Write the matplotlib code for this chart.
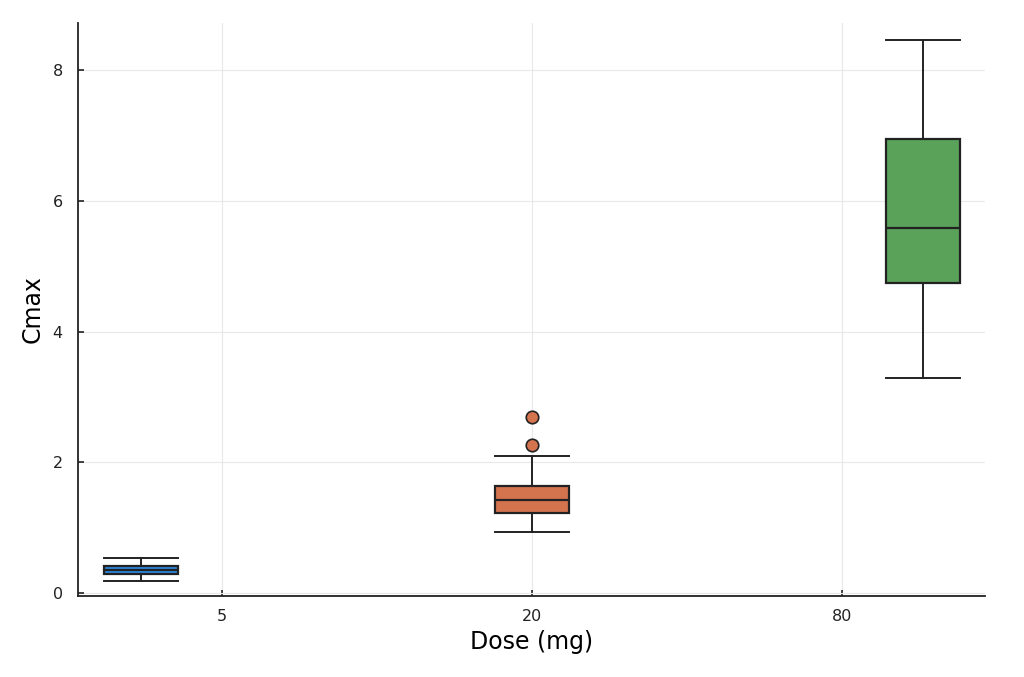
import numpy as np
import matplotlib.pyplot as plt

# box statistics (Cmax per dose group)
doses = ["5", "20", "80"]
positions = [0.5, 1.5, 2.5]
tick_pos = [0.707, 1.5, 2.293]
whislo = [0.18, 0.93, 3.29]
q1 = [0.29, 1.23, 4.75]
med = [0.35, 1.43, 5.58]
q3 = [0.41, 1.63, 6.94]
whishi = [0.54, 2.09, 8.46]
fliers = [[], [2.27, 2.70], []]
colors = ["#2E86DE", "#D4744F", "#5AA15A"]

stats = []
for i in range(len(doses)):
    stats.append(dict(med=med[i], q1=q1[i], q3=q3[i], whislo=whislo[i],
                      whishi=whishi[i], fliers=fliers[i], label=doses[i]))

fig = plt.figure(figsize=(10.24, 6.77), dpi=100)
ax = fig.add_axes([0.0762, 0.1196, 0.8858, 0.8464])

edge = "#222222"
for i, s in enumerate(stats):
    ax.bxp([s], positions=[positions[i]], widths=0.19, patch_artist=True,
           boxprops=dict(facecolor=colors[i], edgecolor=edge, linewidth=1.6),
           medianprops=dict(color=edge, linewidth=1.6),
           whiskerprops=dict(color=edge, linewidth=1.4),
           capprops=dict(color=edge, linewidth=1.4),
           capwidths=0.19,
           flierprops=dict(marker="o", markerfacecolor=colors[i],
                           markeredgecolor=edge, markersize=9,
                           markeredgewidth=1.2))

ax.set_xlim(0.339, 2.659)
ax.set_ylim(-0.046, 8.72)
ax.set_xticks(tick_pos)
ax.set_xticklabels(doses)
ax.set_yticks([0, 2, 4, 6, 8])
ax.set_yticklabels(["0", "2", "4", "6", "8"])

ax.grid(True, color="#e8e8e8", linewidth=0.8)
ax.set_axisbelow(True)
for side in ["top", "right"]:
    ax.spines[side].set_visible(False)
for side in ["left", "bottom"]:
    ax.spines[side].set_linewidth(1.3)
    ax.spines[side].set_color("#222222")
ax.tick_params(direction="in", length=4, width=1.2, labelsize=11.5,
               colors="#222222")
ax.tick_params(axis="y", pad=11)
ax.tick_params(axis="x", pad=9.5)

ax.set_xlabel("Dose (mg)", fontsize=17, labelpad=4)
ax.set_ylabel("Cmax", fontsize=17, labelpad=6)

fig.savefig("out.png", dpi=100, facecolor="white")
